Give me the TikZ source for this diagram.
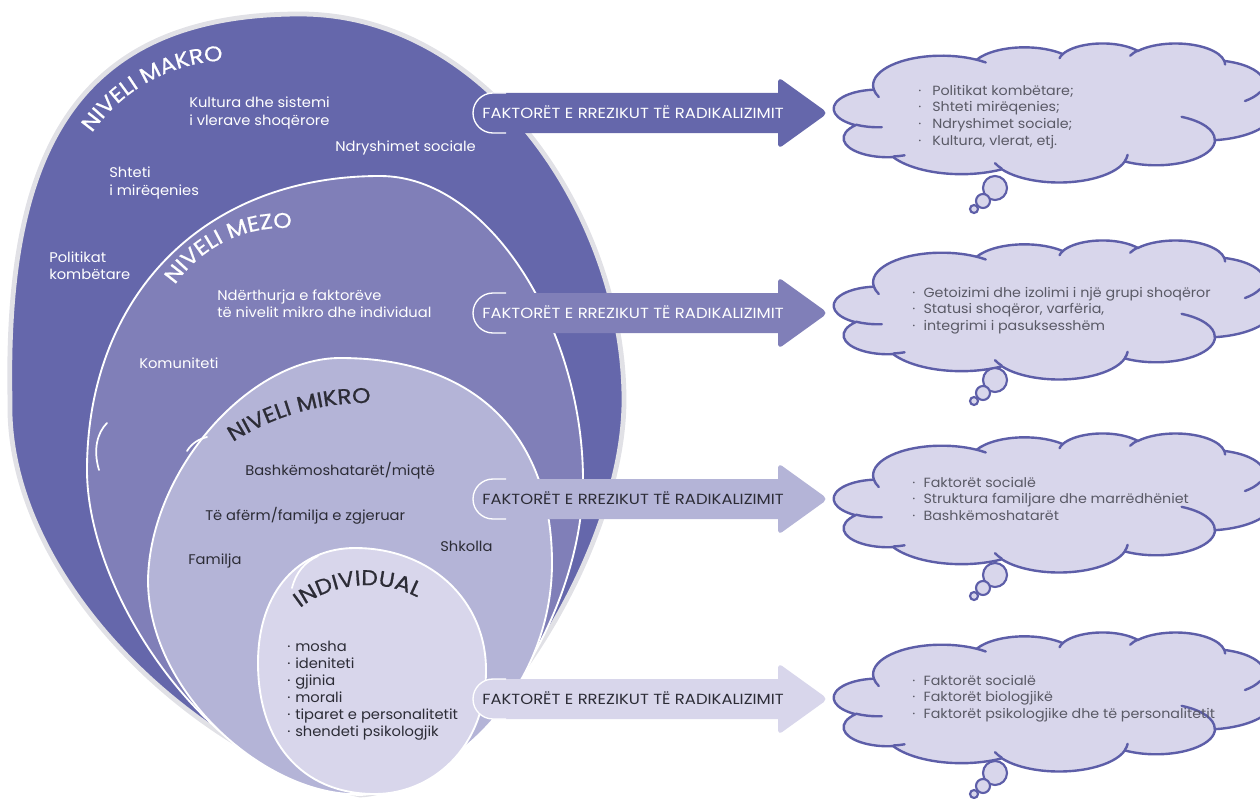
\documentclass[tikz,border=0pt]{standalone}
\usepackage{fontspec}
\setmainfont{Poppins}
\newfontfamily\lblfam[FakeStretch=1.05]{Poppins}
\newfontfamily\riskfam[FakeStretch=1.12]{Poppins}
\newfontfamily\cloudfam[FakeStretch=1.07]{Poppins}
\newfontfamily\titlefam[FakeStretch=1.1,FakeBold=0.7]{Poppins}
\usetikzlibrary{decorations.text}

\definecolor{makro}{HTML}{6567AB}
\definecolor{mezo}{HTML}{807FB8}
\definecolor{mikro}{HTML}{B4B4D7}
\definecolor{indiv}{HTML}{D8D6EB}
\definecolor{rim}{HTML}{E1E1E6}
\definecolor{cloudline}{HTML}{5D5EA8}
\definecolor{ink}{HTML}{2C2C36}
\definecolor{greyink}{HTML}{5A5A66}

\newcommand{\lblfont}{\lblfam\fontsize{10.5}{12}\selectfont}
\newcommand{\riskfont}{\riskfam\fontsize{11}{12}\selectfont}
\newcommand{\cloudfont}{\cloudfam\fontsize{10}{12}\selectfont}
\newcommand{\titlefont}{\titlefam\fontsize{16}{16}\selectfont}
\newcommand{\cb}[1][8.5pt]{\makebox[#1][l]{·}}
\newcommand{\ib}{\makebox[6pt][l]{·}}

\tikzstyle{level} = [draw=white, line width=1.4pt]
\tikzstyle{lbl} = [font=\lblfont, text=white, inner sep=0pt, anchor=base west]
\tikzstyle{dlbl} = [lbl, text=ink]
\tikzstyle{risk} = [font=\riskfont, inner sep=0pt, anchor=base west]
\tikzstyle{cloudtxt} = [font=\cloudfont, text=greyink, inner sep=0pt, anchor=base west]
\tikzstyle{cloud} = [fill=indiv, draw=cloudline, line width=1.8pt, line join=round]
\tikzstyle{puff} = [draw=cloudline, line width=1.8pt, line cap=round]
\tikzstyle{bubble} = [fill=indiv, draw=cloudline, line width=1.6pt]
\tikzstyle{seam} = [draw=white, line width=1.3pt, line cap=round]

% arc given by its visual start angle and sweep
\tikzset{
    ppt arc/.code n args={4}{%
        \pgfmathsetmacro\pptts{atan2(#1*sin(#3),#2*cos(#3))}%
        \pgfmathsetmacro\pptte{atan2(#1*sin(#3+#4),#2*cos(#3+#4))}%
        \pgfmathsetmacro\pptsw{\pptte-\pptts}%
        \pgfmathsetmacro\pptsw{\pptsw+360*(#4>0)*(\pptsw<0)-360*(#4<0)*(\pptsw>0)}%
        \pgfkeysalso{x radius=#1, y radius=#2, start angle=\pptts, delta angle=\pptsw}%
    }
}

\newcommand{\cloudbody}{%
    \path[cloud] (39,143.7)
        arc[ppt arc={67.53}{91.90}{-190.487}{123.781}]
        arc[ppt arc={53.33}{72.67}{-144.102}{89.945}]
        arc[ppt arc={43.65}{59.45}{-145.808}{99.723}]
        arc[ppt arc={48.57}{65.95}{-130.986}{117.242}]
        arc[ppt arc={53.33}{72.73}{-78.709}{109.027}]
        arc[ppt arc={67.75}{92.20}{-46.267}{130.269}]
        arc[ppt arc={57.85}{78.67}{0.625}{114.033}]
        arc[ppt arc={67.52}{92.15}{22.452}{115.173}]
        arc[ppt arc={77.20}{105.43}{66.243}{75.711}]
        arc[ppt arc={43.60}{59.18}{-274.942}{146.736}]
        arc[ppt arc={43.45}{59.45}{-246.829}{152.519}]
        -- cycle;
    \path[puff] (46.93,261.77) arc[ppt arc={43.45}{59.45}{86.742}{26.430}]
        (69.28,348.99) arc[ppt arc={43.60}{59.18}{73.610}{11.447}]
        (164.78,390.90) arc[ppt arc={67.52}{92.15}{137.624}{14.081}]
        (288.27,347.51) arc[ppt arc={67.52}{92.15}{6.453}{15.998}]
        (341.29,229.54) arc[ppt arc={57.85}{78.67}{-70.292}{70.917}]
        (417.98,153.54) arc[ppt arc={53.33}{72.73}{30.318}{27.752}]
        (383.24,54.26) arc[ppt arc={48.57}{65.95}{-13.744}{14.859}]
        (290.78,39.52) arc[ppt arc={48.57}{65.95}{-149.181}{18.195}]
        (221.41,47.20) arc[ppt arc={43.65}{59.45}{-163.494}{17.686}]
        (140.04,52.02) arc[ppt arc={67.53}{91.90}{-66.706}{8}]
        (39,143.7) arc[ppt arc={67.53}{91.90}{169.513}{-20}];
}

\begin{document}
\begin{tikzpicture}[x=0.75pt, y=-0.75pt]
    \useasboundingbox (0,0) rectangle (1260,799);
    % First we draw the four levels, outermost first
    \path[fill=makro, draw=rim, line width=3.6pt] (300,14)
        .. controls (490,14) and (624,220) .. (624,400)
        .. controls (624,560) and (470,790) .. (360,795)
        .. controls (200,760) and (5,580) .. (10,400)
        .. controls (5,160) and (70,14) .. cycle;
    \path[level, fill=mezo] (380,176)
        .. controls (490,176) and (583,330) .. (583,480)
        .. controls (583,620) and (470,790) .. (360,795)
        .. controls (220,790) and (87,600) .. (87,470)
        .. controls (87,300) and (200,176) .. cycle;
    \path[level, fill=mikro] (340,358)
        .. controls (480,358) and (552,440) .. (552,563)
        .. controls (552,690) and (450,790) .. (350,794)
        .. controls (260,790) and (148,690) .. (148,580)
        .. controls (150,470) and (250,358) .. cycle;
    \path[level, fill=indiv] (355,548)
        .. controls (430,548) and (486,600) .. (486,670)
        .. controls (486,750) and (430,794) .. (375,794)
        .. controls (300,794) and (258,740) .. (258,663)
        .. controls (258,590) and (300,548) .. cycle;
    % loose white seams
    \path[seam] (107,423) .. controls (97,433) and (93,450) .. (99,470);
    \path[seam] (207,437) .. controls (199,439) and (192,443) .. (187,451);
    \path[seam] (318,556) .. controls (305,562) and (296,572) .. (292,588);

    % Level titles along arcs
    \path[decorate, decoration={text along path, text={|\titlefont\color{white}|NIVELI MAKRO}}]
        (92,133) arc[start angle=-145.1, end angle=-70, radius=169.5];
    \path[decorate, decoration={text along path, text={|\titlefont\color{white}|NIVELI MEZO}}]
        (175,285) arc[start angle=-145.6, end angle=-65, radius=131];
    \path[decorate, decoration={text along path, text={|\titlefont\color{ink}|NIVELI MIKRO}}]
        (233,442) arc[start angle=-122.7, end angle=-70, radius=246];
    \path[decorate, decoration={text along path, text={|\titlefont\color{ink}|INDIVIDUAL}}]
        (300,608) arc[start angle=-127.6, end angle=-40, radius=110];

    % Texts of the levels
    \node[lbl] (kult1) at (189,108) {Kultura dhe sistemi};
    \node[lbl] (kult2) at (189,125) {i vlerave shoqërore};
    \node[lbl] (ndry) at (335,151) {Ndryshimet sociale};
    \node[lbl] (shte1) at (109,177) {Shteti};
    \node[lbl] (shte2) at (109,195) {i mirëqenies};
    \node[lbl] (poli1) at (49,262) {Politikat};
    \node[lbl] (poli2) at (49,279) {kombëtare};
    \node[lbl] (nder1) at (217,300) {Ndërthurja e faktorëve};
    \node[lbl] (nder2) at (217,317) {të nivelit mikro dhe individual};
    \node[lbl] (komu) at (139,368) {Komuniteti};
    \node[dlbl] (bash) at (245,475) {Bashkëmoshatarët/miqtë};
    \node[dlbl] (afer) at (205,520) {Të afërm/familja e zgjeruar};
    \node[dlbl] (fami) at (188,564) {Familja};
    \node[dlbl] (shko) at (440,551) {Shkolla};
    \foreach \item [count=\i] in {mosha, ideniteti, gjinia, morali, tiparet e personalitetit, shendeti psikologjik}
        \node[dlbl] (ind\i) at (287,{635+16.9*\i}) {\ib\item};

    % Arrows towards the clouds
    \foreach \cy/\col/\tcol [count=\i] in {113/makro/white, 313/mezo/white, 499/mikro/ink, 699/indiv/ink} {
        \fill[\col] (493,\cy-20) -- (778,\cy-20) [rounded corners=4pt] -- (778,\cy-36) -- (828,\cy)
            -- (778,\cy+36) [sharp corners] -- (778,\cy+20) -- (493,\cy+20)
            arc[start angle=90, delta angle=180, radius=20] -- cycle;
        \draw[white, line width=1pt] (506,\cy-20) -- (493,\cy-20)
            arc[start angle=270, delta angle=-180, radius=20] -- (506,\cy+20);
        \node[risk, text=\tcol] (risk\i) at (482,\cy+5) {FAKTORËT E RREZIKUT TË RADIKALIZIMIT};
    }

    % Thought clouds with their bubbles
    \foreach \ct/\bb in {43/188, 240/380, 433/575, 632/773} {
        \begin{scope}[shift={(834,\ct)}, xscale=440/432, yscale=139/432]
            \cloudbody
        \end{scope}
        \path[bubble] (995,\bb) circle[radius=12];
        \path[bubble] (983,\bb+13) circle[radius=7];
        \path[bubble] (974,\bb+21) circle[radius=4];
    }

    % Cloud texts
    \node[cloudtxt] (m1) at (918,95) {\cb[10.5pt]Politikat kombëtare;};
    \node[cloudtxt] (m2) at (918,111.7) {\cb[10.5pt]Shteti mirëqenies;};
    \node[cloudtxt] (m3) at (918,128.4) {\cb[10.5pt]Ndryshimet sociale;};
    \node[cloudtxt] (m4) at (918,145.1) {\cb[10.5pt]Kultura, vlerat, etj.};
    \node[cloudtxt] (z1) at (912,297) {\cb Getoizimi dhe izolimi i një grupi shoqëror};
    \node[cloudtxt] (z2) at (912,313.7) {\cb Statusi shoqëror, varfëria,};
    \node[cloudtxt] (z3) at (912,330.4) {\cb integrimi i pasuksesshëm};
    \node[cloudtxt] (k1) at (912,487) {\cb Faktorët socialë};
    \node[cloudtxt] (k2) at (912,503.7) {\cb Struktura familjare dhe marrëdhëniet};
    \node[cloudtxt] (k3) at (912,520.4) {\cb Bashkëmoshatarët};
    \node[cloudtxt] (d1) at (912,685) {\cb Faktorët socialë};
    \node[cloudtxt] (d2) at (912,701.7) {\cb Faktorët biologjikë};
    \node[cloudtxt] (d3) at (912,718.4) {\cb Faktorët psikologjike dhe të personalitetit};
\end{tikzpicture}
\end{document}
